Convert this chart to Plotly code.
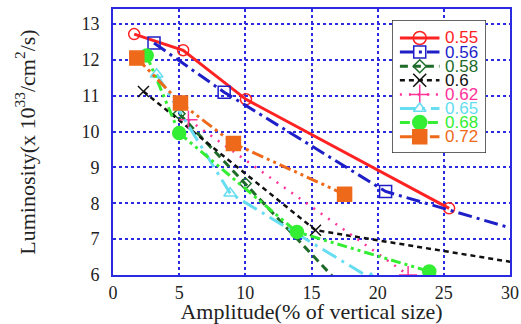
import plotly.graph_objects as go

series_names = ["0.55", "0.56", "0.58", "0.6", "0.62", "0.65", "0.68", "0.72"]

x_055 = [1.6, 5.3, 10.05, 25.4]
y_055 = [12.72, 12.27, 10.9, 7.86]

x_056 = [3.1, 8.4, 20.6, 32.0]
y_056 = [12.47, 11.1, 8.33, 7.1]

x_058 = [5.0, 10.0, 17.0]
y_058 = [10.5, 8.55, 5.8]

x_060 = [2.3, 15.3, 32.0]
y_060 = [11.12, 7.25, 6.25]

x_062 = [5.7, 22.3]
y_062 = [10.33, 6.0]

x_065 = [3.3, 8.85, 19.5]
y_065 = [11.6, 8.28, 5.9]

x_068 = [2.55, 5.0, 13.9, 23.9]
y_068 = [12.12, 9.96, 7.2, 6.1]

x_072 = [1.8, 5.1, 9.1, 17.5]
y_072 = [12.05, 10.8, 9.67, 8.25]

xs = [x_055, x_056, x_058, x_060, x_062, x_065, x_068, x_072]
ys = [y_055, y_056, y_058, y_060, y_062, y_065, y_068, y_072]

colors = ["#ff2222", "#1f1fc8", "#1e6b2a", "#111111", "#ff3399", "#66ddf0", "#33ee33", "#ee6a1a"]
dashes = ["solid", "14px,5px,3px,5px", "8px,5px", "5px,4px", "2px,7px",
          "16px,6px,3px,6px", "10px,4px,3px,4px,3px,4px", "12px,4px,3px,4px,3px,4px"]
symbols = ["circle-open", "square-open", "diamond-open", "x-thin-open", "cross-thin-open",
           "triangle-up-open", "circle", "square"]
msizes = [11, 12, 9, 11, 13, 11, 13, 14]
leg_msizes = [13, 12, 10, 13, 14, 11, 14, 14]
widths = [3, 3, 3, 2.5, 2.5, 3, 3, 3]

fig = go.Figure()
for name, x, y, c, d, s, ms, w in zip(series_names, xs, ys, colors, dashes, symbols, msizes, widths):
    fig.add_trace(go.Scatter(
        x=x, y=y, mode="lines+markers", name=name, showlegend=False,
        line=dict(color=c, width=w, dash=d),
        marker=dict(symbol=s, size=ms, color=c, line=dict(color=c, width=1.5)),
    ))

# ---- inset legend drawn on its own hidden axes (x2/y2) ----
box_h = 133.0
first_off, item_gap = 18 / box_h, 14.1 / box_h
fig.add_trace(go.Scatter(
    x=[0, 1, 1, 0, 0], y=[0, 0, 1, 1, 0], xaxis="x2", yaxis="y2",
    mode="lines", fill="toself", fillcolor="white",
    line=dict(color="#333", width=1.5), showlegend=False, hoverinfo="skip",
))
for i, (name, c, d, s, ms, w) in enumerate(zip(series_names, colors, dashes, symbols, leg_msizes, widths)):
    yy = 1 - first_off - i * item_gap
    fig.add_trace(go.Scatter(
        x=[0.084, 0.505], y=[yy, yy], xaxis="x2", yaxis="y2", mode="lines",
        line=dict(color=c, width=w, dash=d), showlegend=False, hoverinfo="skip",
    ))
    fig.add_trace(go.Scatter(
        x=[0.295], y=[yy], xaxis="x2", yaxis="y2", mode="markers",
        marker=dict(symbol=s, size=ms, color=c, line=dict(color=c, width=1.5)),
        showlegend=False, hoverinfo="skip",
    ))
    fig.add_annotation(
        x=0.54, y=yy, xref="x2", yref="y2", text=name, showarrow=False,
        xanchor="left", yanchor="middle",
        font=dict(family="Liberation Sans", size=17, color=c),
    )

axis_color = "#2a2ae0"
fig.update_layout(
    width=521, height=324,
    margin=dict(l=113, r=11, t=9, b=49),
    paper_bgcolor="white", plot_bgcolor="white",
    font=dict(family="Liberation Serif", size=18, color="#222"),
    showlegend=False,
    xaxis=dict(
        range=[0, 30], dtick=5, tick0=0, automargin=False,
        showline=True, linecolor=axis_color, linewidth=2, mirror=True,
        showgrid=True, gridcolor=axis_color, griddash="dot", gridwidth=1.5,
        zeroline=False, ticks="",
        title=dict(text="Amplitude(% of vertical size)", font=dict(size=22), standoff=4),
    ),
    yaxis=dict(
        range=[6, 13.42], dtick=1, tick0=6, automargin=False,
        showline=True, linecolor=axis_color, linewidth=2, mirror=True,
        showgrid=True, gridcolor=axis_color, griddash="dot", gridwidth=1.5,
        zeroline=False, ticks="", ticklabelstandoff=8,
        title=dict(text="Luminosity(x 10<sup>33</sup>/cm<sup>2</sup>/s)", font=dict(size=22), standoff=40),
    ),
    xaxis2=dict(domain=[(392 - 113) / 397, (486 - 113) / 397], range=[0, 1], visible=False,
                anchor="y2", fixedrange=True),
    yaxis2=dict(domain=[(275 - 153) / 266, (275 - 20) / 266], range=[0, 1], visible=False,
                anchor="x2", fixedrange=True),
)

fig.write_html("out.html")
